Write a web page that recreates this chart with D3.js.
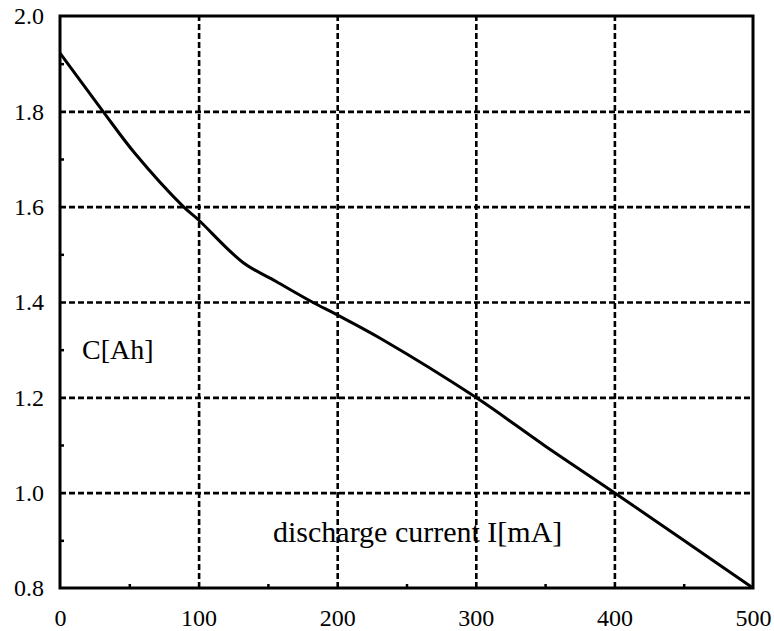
<!DOCTYPE html>
<html>
<head>
<meta charset="utf-8">
<script src="https://cdn.jsdelivr.net/npm/d3@7"></script>
<style>
  body { margin: 0; background: #fff; }
  .grid line { stroke: #000; stroke-width: 2.6; stroke-dasharray: 6 3; }
  .grid path, .minor path, .labels path { display: none; }
  .minor line { stroke: #000; stroke-width: 2.5; }
  .labels line { display: none; }
</style>
</head>
<body>
<div id="chart"></div>
<script>
// discharge current I [mA] vs capacity C [Ah]
var current  = [0, 31, 54, 89, 100, 132, 156, 182, 200, 231, 300, 350, 400, 450, 500];
var capacity = [1.922, 1.80, 1.712, 1.60, 1.572, 1.483, 1.443, 1.40, 1.373, 1.324, 1.20, 1.098, 1.00, 0.90, 0.80];

var xTicks = [0, 100, 200, 300, 400, 500];
var yTicks = [0.8, 1.0, 1.2, 1.4, 1.6, 1.8, 2.0];
var xMinor = [50, 150, 250, 350, 450];
var yMinor = [0.9, 1.1, 1.3, 1.5, 1.7, 1.9];

var serif = '"Liberation Serif", "DejaVu Serif", "Times New Roman", serif';

function initLineChart(divId) {
  var marginLeft = 60,
      marginTop = 16,
      width = 693,
      height = 572;

  var svg = d3.select('#' + divId)
    .append('svg')
    .attr('width', 774)
    .attr('height', 631);

  var x = d3.scaleLinear().domain([0, 500]).range([0, width]),
      y = d3.scaleLinear().domain([0.8, 2.0]).range([height, 0]);

  var g = svg.append('g')
    .attr('transform', 'translate(' + marginLeft + ',' + marginTop + ')');

  // dashed grid
  g.append('g')
    .attr('class', 'grid')
    .attr('transform', 'translate(0,' + height + ')')
    .call(d3.axisBottom(x).tickValues(xTicks.slice(1, -1)).tickSize(-height).tickFormat(''));

  g.append('g')
    .attr('class', 'grid')
    .call(d3.axisLeft(y).tickValues(yTicks.slice(1, -1)).tickSize(-width).tickFormat(''));

  // small inner ticks
  g.append('g')
    .attr('class', 'minor')
    .attr('transform', 'translate(0,' + height + ')')
    .call(d3.axisBottom(x).tickValues(xMinor).tickSize(-4).tickFormat(''));

  g.append('g')
    .attr('class', 'minor')
    .call(d3.axisLeft(y).tickValues(yMinor).tickSize(-4).tickFormat(''));

  // tick labels (font set after the axis call, which resets it)
  g.append('g')
    .attr('class', 'labels')
    .attr('transform', 'translate(0,' + height + ')')
    .call(d3.axisBottom(x).tickValues(xTicks).tickSize(0).tickPadding(21).tickFormat(d3.format('d')))
    .attr('font-family', serif)
    .attr('font-size', 24);

  g.append('g')
    .attr('class', 'labels')
    .call(d3.axisLeft(y).tickValues(yTicks).tickSize(0).tickPadding(16).tickFormat(d3.format('.1f')))
    .attr('font-family', serif)
    .attr('font-size', 24);

  // curve
  var line = d3.line()
    .x(function(d, i) { return x(current[i]); })
    .y(function(d, i) { return y(capacity[i]); })
    .curve(d3.curveCatmullRom.alpha(0.5));

  g.append('path')
    .datum(capacity)
    .attr('fill', 'none')
    .attr('stroke', '#000')
    .attr('stroke-width', 3)
    .attr('d', line);

  // frame
  g.append('rect')
    .attr('width', width)
    .attr('height', height)
    .attr('fill', 'none')
    .attr('stroke', '#000')
    .attr('stroke-width', 3);

  // in-plot labels
  g.append('text')
    .attr('x', 22)
    .attr('y', 343)
    .attr('font-family', serif)
    .attr('font-size', 28)
    .text('C[Ah]');

  g.append('text')
    .attr('x', 213)
    .attr('y', 526)
    .attr('font-family', serif)
    .attr('font-size', 30)
    .text('discharge current I[mA]');
}

initLineChart('chart');
</script>
</body>
</html>
